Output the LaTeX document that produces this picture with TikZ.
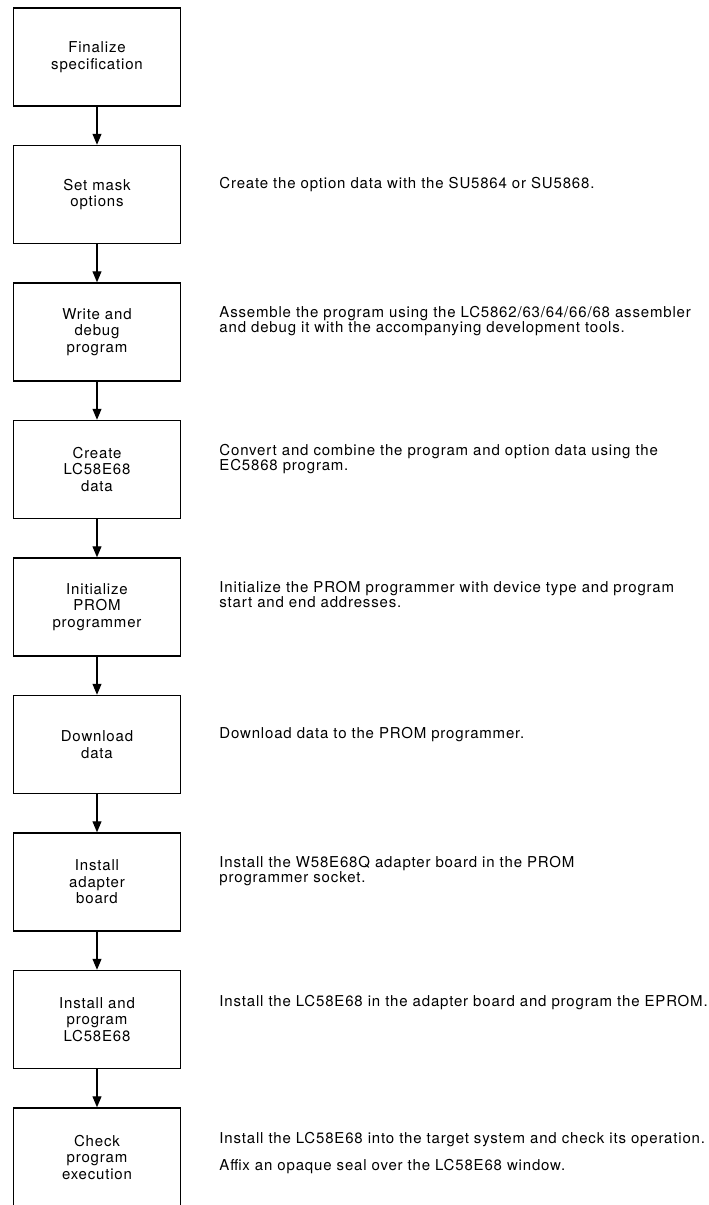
\documentclass[tikz,border=0pt]{standalone}
\usepackage{fontspec}
\setmainfont{TeX Gyre Heros}[LetterSpace=5.5]
\usetikzlibrary{positioning,arrows.meta}

\begin{document}
\begin{tikzpicture}[x=1pt,y=-1pt,node distance=38pt,
	stepbox/.style={draw, line width=1.5pt, minimum width=167pt, minimum height=98pt,
		align=center, inner sep=0pt, font=\fontsize{15}{16.5}\selectfont},
	note/.style={anchor=north west, align=left, inner sep=0pt, font=\fontsize{15}{14}\selectfont},
	flow/.style={line width=1.2pt, -{Triangle[length=11pt,width=9pt]}}]
	\useasboundingbox (0,0) rectangle (709,1205);
	\node[stepbox] (spec) at (97,57) {Finalize\\specification};
	\node[stepbox, below=of spec] (mask) {Set mask\\options};
	\node[stepbox, below=of mask] (debug) {Write and\\debug\\program};
	\node[stepbox, below=of debug] (create) {Create\\LC58E68\\data};
	\node[stepbox, below=of create] (init) {Initialize\\PROM\\programmer};
	\node[stepbox, below=of init] (load) {Download\\data};
	\node[stepbox, below=of load] (adapter) {Install\\adapter\\board};
	\node[stepbox, below=of adapter] (prog) {Install and\\program\\LC58E68};
	\node[stepbox, below=of prog] (check) {Check\\program\\execution};
	\draw[flow] (spec) -- (mask);
	\draw[flow] (mask) -- (debug);
	\draw[flow] (debug) -- (create);
	\draw[flow] (create) -- (init);
	\draw[flow] (init) -- (load);
	\draw[flow] (load) -- (adapter);
	\draw[flow] (adapter) -- (prog);
	\draw[flow] (prog) -- (check);
	\node[note] (mask-txt) at ([shift={(38,32)}]mask.north east)
		{Create the option data with the SU5864 or SU5868.};
	\node[note] (debug-txt) at ([shift={(38,24)}]debug.north east)
		{Assemble the program using the LC5862/63/64/66/68 assembler\\and debug it with the accompanying development tools.};
	\node[note] (create-txt) at ([shift={(38,24)}]create.north east)
		{Convert and combine the program and option data using the\\EC5868 program.};
	\node[note] (init-txt) at ([shift={(38,24)}]init.north east)
		{Initialize the PROM programmer with device type and program\\start and end addresses.};
	\node[note] (load-txt) at ([shift={(38,32)}]load.north east)
		{Download data to the PROM programmer.};
	\node[note] (adapter-txt) at ([shift={(38,24)}]adapter.north east)
		{Install the W58E68Q adapter board in the PROM\\programmer socket.};
	\node[note] (prog-txt) at ([shift={(38,25)}]prog.north east)
		{Install the LC58E68 in the adapter board and program the EPROM.};
	\node[note] (check-txt) at ([shift={(38,25)}]check.north east)
		{Install the LC58E68 into the target system and check its operation.\\[11pt]Affix an opaque seal over the LC58E68 window.};
\end{tikzpicture}
\end{document}
